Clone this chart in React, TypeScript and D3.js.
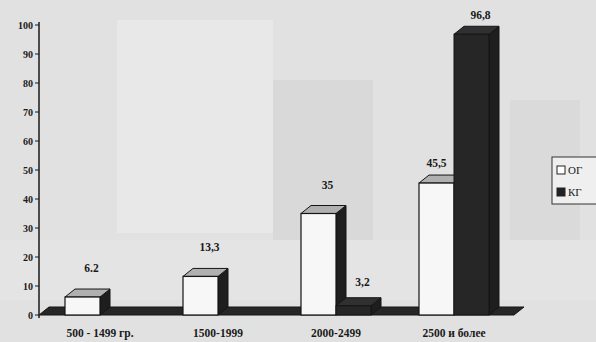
import React from "react";
import * as d3 from "d3";

const categories = ["500 - 1499 гр.", "1500-1999", "2000-2499", "2500 и более"];
const seriesNames = ["ОГ", "КГ"];
const ogValues = [6.2, 13.3, 35, 45.5];
const kgValues = [0, 0, 3.2, 96.8];
const ogLabels = ["6.2", "13,3", "35", "45,5"];
const kgLabels = ["", "", "3,2", "96,8"];
const yTicks = [0, 10, 20, 30, 40, 50, 60, 70, 80, 90, 100];

const W = 596, H = 342;
const DX = 10, DY = 8;

export default function App() {
  const y = d3.scaleLinear().domain([0, 100]).range([315, 25]);
  const x0 = d3.scaleBand<string>().domain(categories).range([39, 511]).padding(0);
  const x1 = d3.scaleBand<string>().domain(seriesNames).range([26, 96]).padding(0);
  const font = "'Liberation Serif', 'DejaVu Serif', serif";
  const base = y(0);
  const floorLeft = 39, floorRight = 514;

  const bars: React.ReactNode[] = [];
  categories.forEach((c, i) => {
    const vals = [ogValues[i], kgValues[i]];
    seriesNames.forEach((s, j) => {
      const v = vals[j];
      if (v <= 0) return;
      const xl = (x0(c) as number) + (x1(s) as number);
      const xr = xl + x1.bandwidth();
      const yt = y(v);
      const isOG = j === 0;
      const front = isOG ? "#f7f7f7" : "#262626";
      const top = isOG ? "#b0b0b0" : "#303030";
      const side = "#1e1e1e";
      bars.push(
        <g key={c + s}>
          <polygon points={`${xr},${yt} ${xr + DX},${yt - DY} ${xr + DX},${base - DY} ${xr},${base}`} fill={side} stroke="#151515" strokeWidth={1} />
          <polygon points={`${xl},${yt} ${xl + DX},${yt - DY} ${xr + DX},${yt - DY} ${xr},${yt}`} fill={top} stroke="#151515" strokeWidth={1} />
          <rect x={xl} y={yt} width={xr - xl} height={base - yt} fill={front} stroke="#151515" strokeWidth={isOG ? 1.2 : 1} />
        </g>
      );
    });
  });

  const labels: React.ReactNode[] = [];
  categories.forEach((c, i) => {
    const vals = [ogValues[i], kgValues[i]];
    const texts = [ogLabels[i], kgLabels[i]];
    seriesNames.forEach((s, j) => {
      if (!texts[j]) return;
      const xl = (x0(c) as number) + (x1(s) as number);
      const neighbourTaller = j === 0 && vals[1] > vals[0];
      const cx = xl + x1.bandwidth() / 2 + (neighbourTaller ? 0 : DX / 2 + 4);
      const off = j === 0 ? (neighbourTaller ? 16 : 25) : (vals[j] < 10 ? 20 : 15);
      labels.push(
        <text key={"l" + c + s} x={cx} y={y(vals[j]) - off} textAnchor="middle" fontFamily={font} fontWeight="bold" fontSize={11.5} fill="#1a1a1a">
          {texts[j]}
        </text>
      );
    });
  });

  return (
    <svg width={W} height={H} style={{ position: "absolute", left: 0, top: 0 }}>
      <rect x={0} y={0} width={W} height={H} fill="#e1e1e1" />
      <rect x={117} y={20} width={156} height={213} fill="#e8e8e8" />
      <rect x={273} y={80} width={100} height={160} fill="#d9d9d9" />
      <rect x={510} y={100} width={70} height={140} fill="#dadada" />
      <rect x={0} y={240} width={W} height={60} fill="#e6e6e6" opacity={0.6} />
      {/* floor */}
      <polygon points={`${floorLeft},${base} ${floorRight},${base} ${floorRight + DX},${base - DY} ${floorLeft + DX},${base - DY}`} fill="#262626" stroke="#151515" />
      {bars}
      {labels}
      {/* y axis */}
      <line x1={39} x2={39} y1={22} y2={318} stroke="#1a1a1a" strokeWidth={1.5} />
      {yTicks.map(t => (
        <g key={t}>
          <line x1={35} x2={39} y1={y(t)} y2={y(t)} stroke="#1a1a1a" />
          <text x={33} y={y(t) + 3.5} textAnchor="end" fontFamily={font} fontWeight="bold" fontSize={10} fill="#1a1a1a">{t}</text>
        </g>
      ))}
      {categories.map(c => (
        <text key={c} x={(x0(c) as number) + (x1("КГ") as number)} y={337} textAnchor="middle" fontFamily={font} fontWeight="bold" fontSize={11.5} fill="#1a1a1a">{c}</text>
      ))}
      {/* legend */}
      <rect x={552} y={157} width={50} height={47} fill="#efefef" stroke="#333" strokeWidth={1} />
      <rect x={557} y={166} width={8} height={8} fill="#fff" stroke="#222" />
      <text x={568} y={174} fontFamily={font} fontSize={11} fill="#1a1a1a">ОГ</text>
      <rect x={557} y={188} width={8} height={8} fill="#222" stroke="#222" />
      <text x={568} y={196} fontFamily={font} fontSize={11} fill="#1a1a1a">КГ</text>
    </svg>
  );
}
